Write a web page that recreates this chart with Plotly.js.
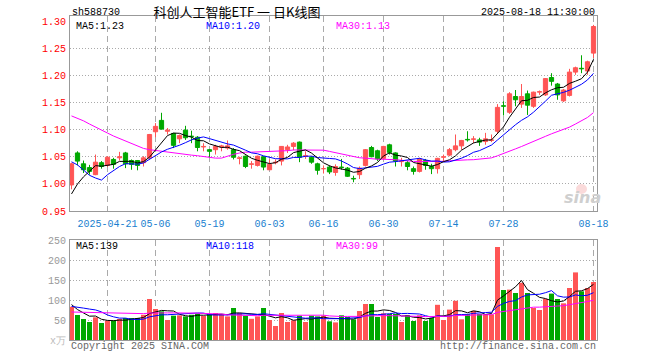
<!DOCTYPE html>
<html><head><meta charset="utf-8">
<script src="https://cdn.plot.ly/plotly-3.0.1.min.js"></script>
<style>html,body{margin:0;padding:0;background:#fff}#chart{width:660px;height:360px}</style>
</head><body><div id="chart"></div>
<script>
// ---- data ----
const dates = [
 '2025-04-11','2025-04-14','2025-04-15','2025-04-16','2025-04-17','2025-04-18','2025-04-21','2025-04-22','2025-04-23','2025-04-24','2025-04-25','2025-04-28','2025-04-29','2025-04-30',
 '2025-05-06','2025-05-07','2025-05-08','2025-05-09','2025-05-12','2025-05-13','2025-05-14','2025-05-15','2025-05-16','2025-05-19','2025-05-20','2025-05-21','2025-05-22','2025-05-23','2025-05-26','2025-05-27','2025-05-28','2025-05-29','2025-05-30',
 '2025-06-03','2025-06-04','2025-06-05','2025-06-06','2025-06-09','2025-06-10','2025-06-11','2025-06-12','2025-06-13','2025-06-16','2025-06-17','2025-06-18','2025-06-19','2025-06-20','2025-06-23','2025-06-24','2025-06-25','2025-06-26','2025-06-27','2025-06-30',
 '2025-07-01','2025-07-02','2025-07-03','2025-07-04','2025-07-07','2025-07-08','2025-07-09','2025-07-10','2025-07-11','2025-07-14','2025-07-15','2025-07-16','2025-07-17','2025-07-18','2025-07-21','2025-07-22','2025-07-23','2025-07-24','2025-07-25','2025-07-28','2025-07-29','2025-07-30','2025-07-31',
 '2025-08-01','2025-08-04','2025-08-05','2025-08-06','2025-08-07','2025-08-08','2025-08-11','2025-08-12','2025-08-13','2025-08-14','2025-08-15','2025-08-18'
];
const open = [0.998,1.057,1.037,1.030,1.017,1.039,1.034,1.045,1.048,1.057,1.043,1.043,1.039,1.048,
 1.096,1.117,1.097,1.093,1.083,1.099,1.088,1.086,1.068,1.063,1.063,1.068,1.066,1.063,1.047,1.051,1.036,1.034,1.050,
 1.026,1.039,1.042,1.063,1.069,1.077,1.051,1.049,1.037,1.028,1.031,1.021,1.031,1.029,1.010,1.017,1.034,1.067,1.061,1.047,
 1.072,1.057,1.041,1.039,1.028,1.023,1.043,1.032,1.028,1.049,1.053,1.063,1.070,1.082,1.082,1.081,1.078,1.080,1.097,1.144,1.132,1.161,
 1.147,1.166,1.143,1.169,1.164,1.196,1.184,1.153,1.163,1.206,1.213,1.208,1.241];
const high = [1.039,1.060,1.043,1.035,1.054,1.042,1.051,1.048,1.059,1.059,1.045,1.044,1.051,1.092,
 1.112,1.131,1.103,1.094,1.091,1.107,1.098,1.088,1.075,1.064,1.072,1.072,1.080,1.066,1.050,1.052,1.042,1.052,1.051,
 1.045,1.045,1.069,1.072,1.077,1.078,1.060,1.051,1.039,1.034,1.034,1.036,1.046,1.031,1.015,1.032,1.064,1.070,1.063,1.070,
 1.074,1.058,1.048,1.042,1.032,1.048,1.046,1.037,1.048,1.054,1.066,1.091,1.081,1.097,1.088,1.085,1.094,1.091,1.147,1.152,1.169,1.173,
 1.184,1.172,1.170,1.172,1.195,1.204,1.186,1.175,1.212,1.216,1.237,1.227,1.293];
const low = [0.990,1.034,1.020,1.017,1.016,1.028,1.031,1.028,1.043,1.029,1.026,1.025,1.032,1.045,
 1.086,1.100,1.091,1.066,1.075,1.081,1.075,1.060,1.060,1.048,1.054,1.060,1.063,1.045,1.036,1.029,1.028,1.032,1.025,
 1.026,1.036,1.034,1.057,1.062,1.040,1.046,1.037,1.017,1.019,1.018,1.015,1.026,1.013,1.003,1.009,1.032,1.049,1.042,1.045,
 1.054,1.032,1.032,1.025,1.017,1.021,1.026,1.018,1.019,1.042,1.051,1.060,1.063,1.078,1.075,1.070,1.072,1.077,1.092,1.126,1.129,1.143,
 1.140,1.127,1.140,1.164,1.162,1.181,1.155,1.151,1.161,1.201,1.204,1.201,1.232];
const close = [1.037,1.042,1.026,1.023,1.040,1.032,1.049,1.036,1.050,1.037,1.036,1.034,1.048,1.091,
 1.106,1.101,1.099,1.071,1.089,1.085,1.087,1.067,1.069,1.060,1.069,1.070,1.070,1.049,1.048,1.032,1.037,1.051,1.031,
 1.036,1.040,1.069,1.068,1.075,1.049,1.052,1.040,1.025,1.028,1.022,1.032,1.030,1.014,1.009,1.029,1.063,1.050,1.046,1.069,
 1.058,1.042,1.042,1.032,1.023,1.046,1.034,1.028,1.047,1.050,1.063,1.070,1.080,1.081,1.083,1.077,1.083,1.081,1.141,1.143,1.166,1.155,
 1.161,1.145,1.169,1.170,1.194,1.189,1.164,1.173,1.206,1.214,1.212,1.225,1.290];
// volume, in 万 (10k) lots
const volume = [83,62.5,52.5,45,56.7,42.5,48.3,49,52.5,55,55,55,63,102.5,
 77.5,71.7,50,60.8,61.7,59,63,65.8,60,65,67.5,65,59,80,67.5,60.8,53,59,80,
 50,35,67.5,45,49,60.8,45,60.8,59,60.8,46.7,44,61.7,57.5,51.7,72.5,90,90,57.5,66.7,
 65,65,45,61.7,47.5,61.7,47.5,55,88,50,76,98,51.7,65,73,65,64,64,232.5,125,126,117.5,
 143,117.5,80,75,102.5,116,102.5,91.7,130,169,121.7,130,145];
// sessions before the window (estimated from where the MA lines start), only used for the moving averages
const priorClose = [1.16,1.18,1.20,1.22,1.21,1.19,1.20,1.18,1.19,1.17,1.17,1.18,1.16,
 1.15,1.16,1.14,1.13,1.14,1.12,1.10, 1.10,1.12,1.12,1.09,1.07, 0.95,0.96,0.975,0.985];
const priorVolume = [70,65,60,72,58,62,66,55,60,64,68,59,61,57,63,66,60,58,65,71,
 75,82,70,78,92, 125,95,85,55];
const tickDates = ['2025-04-21','2025-05-06','2025-05-19','2025-06-03','2025-06-16','2025-06-30','2025-07-14','2025-07-28','2025-08-18'];
const tickLabels = ['2025-04-21','05-06','05-19','06-03','06-16','06-30','07-14','07-28','08-18'];
const priceTicks = [0.95,1.00,1.05,1.10,1.15,1.20,1.25,1.30];
const volTicks = [0,50,100,150,200,250];
const volTickLabels = ['<span style="color:#bbb">x万</span>','50','100','150','200','250'];

// ---- styles ----
const RED = '#FF5555', GREEN = '#00A800';
const MONO = '"Liberation Mono", "DejaVu Sans Mono", monospace';
const L = 70, R = 597, T = 16, B = 340;

function movingAvg(values, prior, n) {
  const all = prior.concat(values), off = prior.length;
  return values.map((_, i) => {
    let s = 0;
    for (let k = off + i - n + 1; k <= off + i; k++) s += all[k];
    return s / n;
  });
}
const idx = dates.map((d, i) => i);
const up = idx.map(i => close[i] >= open[i]);

function wick(isUp) {
  const xs = [], ys = [];
  idx.forEach(i => { if (up[i] === isUp) { xs.push(i, i, null); ys.push(low[i], high[i], null); } });
  return {type: 'scatter', mode: 'lines', x: xs, y: ys, xaxis: 'x', yaxis: 'y',
    line: {color: isUp ? RED : GREEN, width: 1}, connectgaps: false, hoverinfo: 'skip'};
}
function body(isUp) {
  const sel = idx.filter(i => up[i] === isUp);
  return {type: 'bar', x: sel, base: sel.map(i => Math.min(open[i], close[i])),
    y: sel.map(i => Math.abs(close[i] - open[i])), width: 0.7, xaxis: 'x', yaxis: 'y',
    marker: {color: isUp ? RED : GREEN, line: {color: isUp ? RED : GREEN, width: 1}}, hoverinfo: 'skip'};
}
function volBars(isUp) {
  const sel = idx.filter(i => up[i] === isUp);
  return {type: 'bar', x: sel, y: sel.map(i => volume[i]), width: 0.83, xaxis: 'x2', yaxis: 'y2',
    marker: {color: isUp ? RED : GREEN, line: {width: 0}}, hoverinfo: 'skip'};
}
const ma5 = movingAvg(close, priorClose, 5), ma10 = movingAvg(close, priorClose, 10), ma30 = movingAvg(close, priorClose, 30);
const vma5 = movingAvg(volume, priorVolume, 5), vma10 = movingAvg(volume, priorVolume, 10), vma30 = movingAvg(volume, priorVolume, 30);
function line(y, color, xa, ya) {
  return {type: 'scatter', mode: 'lines', x: idx, y: y, xaxis: xa, yaxis: ya, line: {color: color, width: 1}, hoverinfo: 'skip'};
}

const traces = [
  volBars(true), volBars(false),
  line(vma5, '#000000', 'x2', 'y2'), line(vma10, '#0000FF', 'x2', 'y2'), line(vma30, '#FF00FF', 'x2', 'y2'),
  wick(true), wick(false), body(true), body(false),
  line(ma30, '#FF00FF', 'x', 'y'), line(ma10, '#0000FF', 'x', 'y'), line(ma5, '#000000', 'x', 'y')
];

const px = v => (v - L) / (R - L);
const py = v => (B - v) / (B - T);
function ann(text, x, y, color, anchor, size) {
  return {text: text, x: px(x), y: py(y), xref: 'paper', yref: 'paper', xanchor: anchor || 'left', yanchor: 'middle',
    showarrow: false, font: {family: MONO, size: size || 10, color: color}};
}
const last = a => a[a.length - 1];
const tickIdx = tickDates.map(d => dates.indexOf(d));

const layout = {
  width: 660, height: 360, margin: {l: L, r: 660 - R, t: T, b: 360 - B},
  paper_bgcolor: '#fff', plot_bgcolor: '#fff', showlegend: false, hovermode: false, barmode: 'overlay',
  title: {text: '科创人工智能ETF 一 日K线图', font: {family: '"Noto Sans CJK SC", sans-serif', size: 13, color: '#000'},
    x: 237 / 660, xanchor: 'center', xref: 'container', y: 1 - 12 / 360, yanchor: 'middle', yref: 'container'},
  xaxis: {domain: [0, 1], anchor: 'y', range: [(L - 71.5) / 6, (R - 71.5) / 6], tickmode: 'array', tickvals: tickIdx, ticktext: tickLabels,
    tickfont: {family: MONO, size: 10, color: '#1a7fd0'}, ticks: 'outside', ticklen: 3, tickcolor: 'rgba(0,0,0,0)',
    showgrid: true, gridcolor: '#aaa', griddash: '6px,4px', gridwidth: 1,
    zeroline: false, showline: true, mirror: true, linecolor: '#999', linewidth: 1, fixedrange: true},
  yaxis: {domain: [(B - 211) / (B - T), 1], anchor: 'x', range: [0.95, 0.95 + 195.5 / 544], tickmode: 'array', tickvals: priceTicks,
    ticktext: priceTicks.map(v => v.toFixed(2)), tickfont: {family: MONO, size: 10, color: '#FF0000'}, ticks: '', ticklabelstandoff: 1,
    showgrid: false, minor: {tickmode: 'array', tickvals: [1.00, 1.05, 1.10, 1.15, 1.20, 1.25], showgrid: true, gridcolor: '#aaa', griddash: '1px,2px', gridwidth: 1, ticks: ''},
    zeroline: false, showline: true, mirror: true, linecolor: '#999', linewidth: 1, fixedrange: true},
  xaxis2: {domain: [0, 1], anchor: 'y2', matches: 'x', tickmode: 'array', tickvals: tickIdx, showticklabels: false, ticks: '',
    showgrid: true, gridcolor: '#aaa', griddash: '6px,4px', gridwidth: 1, zeroline: false, showline: true, mirror: true, linecolor: '#999', linewidth: 1, fixedrange: true},
  yaxis2: {domain: [0, (B - 240) / (B - T)], anchor: 'x2', range: [0, 250], tickmode: 'array', tickvals: volTicks, ticktext: volTickLabels,
    tickfont: {family: MONO, size: 10, color: '#999'}, ticks: '', ticklabelstandoff: 1,
    showgrid: true, gridcolor: '#aaa', griddash: '1px,2px', gridwidth: 1, zeroline: false, showline: true, mirror: true, linecolor: '#999', linewidth: 1, fixedrange: true},
  annotations: [
    ann('sh588730', 70, 13, '#000'),
    ann('2025-08-18 11:30:00', 597, 13, '#000', 'right'),
    ann('MA5:' + last(ma5).toFixed(2), 74, 26, '#000'),
    ann('MA10:' + last(ma10).toFixed(2), 204, 26, '#0000FF'),
    ann('MA30:' + last(ma30).toFixed(2), 334, 26, '#FF00FF'),
    ann('MA5:' + Math.round(last(vma5)), 74, 246, '#000'),
    ann('MA10:' + Math.round(last(vma10)), 204, 246, '#0000FF'),
    ann('MA30:' + Math.round(last(vma30)), 334, 246, '#FF00FF'),
    ann('Copyright 2025 SINA.COM', 69, 346, '#666'),
    ann('http://finance.sina.com.cn', 598, 346, '#666', 'right'),
    {text: '<b><i>sina</i></b>', x: px(582), y: py(197), xref: 'paper', yref: 'paper', xanchor: 'center', yanchor: 'middle', showarrow: false,
      font: {family: '"DejaVu Sans", sans-serif', size: 16, color: '#cfcfcf'}}
  ],
  shapes: [
    {type: 'circle', xref: 'paper', yref: 'paper', x0: px(576), x1: px(587), y0: py(194), y1: py(184), fillcolor: 'rgba(240,150,150,0.35)', line: {width: 0}, layer: 'below'}
  ]
};
Plotly.newPlot('chart', traces, layout, {staticPlot: true, displayModeBar: false});
</script></body></html>
